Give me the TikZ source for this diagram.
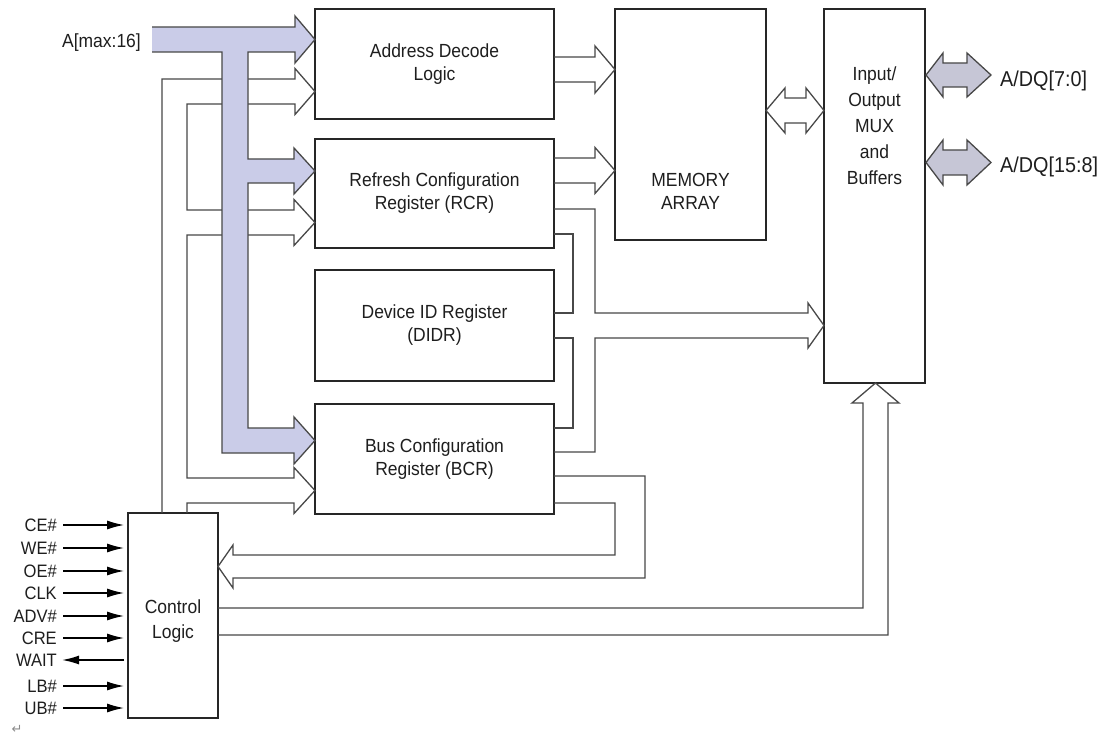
\documentclass[tikz,border=0pt]{standalone}
\usepackage{fontspec}
\setmainfont{Liberation Sans}[FakeStretch=0.92]
\newfontfamily\symfont{DejaVu Sans}
\usetikzlibrary{arrows.meta,calc}
\definecolor{busc}{RGB}{202,204,232}
\definecolor{dqc}{RGB}{198,198,214}
\definecolor{linec}{RGB}{72,72,72}
\definecolor{boxc}{RGB}{38,38,38}
\definecolor{txtc}{RGB}{30,30,30}
\begin{document}
\begin{tikzpicture}[x=1pt,y=-1pt,
  blk/.style={draw=boxc,line width=1.7pt,fill=white,inner sep=0pt,align=center,
    text=txtc,font=\fontsize{19}{23}\selectfont},
  pipe/.style={draw=linec,line width=1.3pt,line join=miter},
  lbl/.style={inner sep=0pt,text=txtc,text height=12.9pt,text depth=0pt,
    font=\fontsize{18}{22}\selectfont},
  biglbl/.style={inner sep=0pt,text=txtc,text height=15.4pt,text depth=0pt,
    font=\fontsize{21.5}{26}\selectfont},
  txt/.style={inner sep=0pt,align=center,text=txtc,font=\fontsize{19}{23}\selectfont},
  sig/.style={draw=black,line width=1.6pt,-{Latex[length=17pt,width=9pt]}}
]
\fill[white] (0,0) rectangle (1111,738);
\useasboundingbox (0,0) rectangle (1111,738);

% ---------------- blocks ----------------
\node[blk,minimum width=239pt,minimum height=110pt] (adl) at (434.5,64) {Address Decode\\Logic};
\node[blk,minimum width=239pt,minimum height=109pt] (rcr) at (434.5,193.5) {Refresh Configuration\\Register (RCR)};
\node[blk,minimum width=239pt,minimum height=111pt] (didr) at (434.5,325.5) {Device ID Register\\(DIDR)};
\node[blk,minimum width=239pt,minimum height=110pt] (bcr) at (434.5,459) {Bus Configuration\\Register (BCR)};
\node[blk,minimum width=151pt,minimum height=231pt] (mem) at (690.5,124.5) {};
\node[txt] (memtxt) at (690.5,191) {MEMORY\\ARRAY};
\node[blk,minimum width=101pt,minimum height=374pt] (io) at (874.5,196) {};
\node[txt,font=\fontsize{19}{26}\selectfont] (iotxt) at (874.5,125.5) {Input/\\Output\\MUX\\and\\Buffers};
\node[blk,minimum width=90pt,minimum height=205pt] (ctl) at (173,615.5) {};
\node[txt,font=\fontsize{19}{25}\selectfont] (ctltxt) at (173,621) {Control\\Logic};

% ---------------- open (hollow) bus arrows ----------------
% Control Logic -> Address Decode, RCR, BCR
\draw[pipe] (162,513) -- (162,79) -- (295,79) -- (295,68.5) -- (315,91.5) -- (295,114.5) -- (295,104)
  -- (187,104) -- (187,210) -- (294,210) -- (294,199.5) -- (315,222.5) -- (294,245.5) -- (294,235)
  -- (187,235) -- (187,478) -- (294,478) -- (294,467.5) -- (315,490.5) -- (294,513.5) -- (294,503)
  -- (187,503) -- (187,513);
% Address Decode -> Memory
\draw[pipe] (554,57) -- (595,57) -- (595,46) -- (615,69.5) -- (595,93) -- (595,82) -- (554,82);
% RCR -> Memory
\draw[pipe] (554,158) -- (595,158) -- (595,147.5) -- (615,170.5) -- (595,193.5) -- (595,183) -- (554,183);
% RCR / DIDR / BCR -> I/O
\draw[pipe] (554,209) -- (595,209) -- (595,313) -- (808,313) -- (808,303) -- (824,325.5) -- (808,348)
  -- (808,338) -- (595,338) -- (595,452) -- (554,452);
\draw[pipe] (554,234) -- (573,234) -- (573,313) -- (554,313);
\draw[pipe] (554,338) -- (573,338) -- (573,428) -- (554,428);
% BCR -> Control Logic
\draw[pipe] (554,476) -- (645,476) -- (645,578) -- (233,578) -- (233,588) -- (218,566.5) -- (233,545)
  -- (233,555) -- (615,555) -- (615,503) -- (554,503);
% Control Logic -> I/O (bottom)
\draw[pipe] (218,608) -- (863,608) -- (863,403) -- (852,403) -- (875.5,383) -- (899,403) -- (888,403)
  -- (888,635) -- (218,635);
% Memory <-> I/O
\draw[pipe,fill=white] (766,110.5) -- (785,88) -- (785,98) -- (806,98) -- (806,88) -- (824,110.5)
  -- (806,133) -- (806,123) -- (785,123) -- (785,133) -- cycle;

% ---------------- address bus ----------------
\fill[busc] (152,27) -- (295,27) -- (295,16) -- (315,39.5) -- (295,63) -- (295,52) -- (248,52)
  -- (248,159) -- (294,159) -- (294,148) -- (315,171) -- (294,194) -- (294,183) -- (248,183)
  -- (248,428) -- (294,428) -- (294,417) -- (315,440.5) -- (294,464) -- (294,453) -- (222,453)
  -- (222,52) -- (152,52) -- cycle;
\draw[pipe] (152,27) -- (295,27) -- (295,16) -- (315,39.5) -- (295,63) -- (295,52) -- (248,52)
  -- (248,159) -- (294,159) -- (294,148) -- (315,171) -- (294,194) -- (294,183) -- (248,183)
  -- (248,428) -- (294,428) -- (294,417) -- (315,440.5) -- (294,464) -- (294,453) -- (222,453)
  -- (222,52) -- (152,52);
\node[lbl,font=\fontsize{19}{23}\selectfont,text height=13.6pt,anchor=east] (abus) at (141,41) {A[max:16]};

% ---------------- A/DQ ports ----------------
\draw[pipe,fill=dqc] (926,75) -- (943,53) -- (943,63) -- (967,63) -- (967,53) -- (991,75)
  -- (967,97) -- (967,87) -- (943,87) -- (943,97) -- cycle;
\draw[pipe,fill=dqc] (926,162.5) -- (943,140) -- (943,150) -- (967,150) -- (967,140) -- (991,162.5)
  -- (967,185) -- (967,175) -- (943,175) -- (943,185) -- cycle;
\node[biglbl,anchor=west] (dqlo) at (1000,79) {A/DQ[7:0]};
\node[biglbl,anchor=west] (dqhi) at (1000,165) {A/DQ[15:8]};

% ---------------- control signals ----------------
\foreach \nm/\tx/\yy in {ce/{CE\#}/525,we/{WE\#}/548,oe/{OE\#}/571,clk/{CLK}/593,
    adv/{ADV\#}/616,cre/{CRE}/638,lb/{LB\#}/686,ub/{UB\#}/708}{
  \node[lbl,anchor=east] (\nm) at (57,\yy) {\tx};
  \draw[sig] ($(\nm.east)+(6,0)$) -- ($(\nm.east -| ctl.west)+(-3,0)$);
}
\node[lbl,anchor=east] (wait) at (57,660) {WAIT};
\draw[sig] ($(wait.east -| ctl.west)+(-3,0)$) -- ($(wait.east)+(5,0)$);

\node[inner sep=0pt,text=black!45,font=\symfont\fontsize{13}{13}\selectfont] (ret) at (17,729) {↵};
\end{tikzpicture}
\end{document}
